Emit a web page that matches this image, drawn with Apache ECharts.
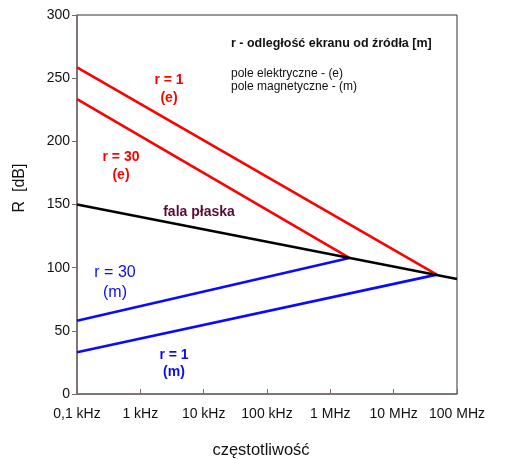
<!DOCTYPE html>
<html>
<head>
<meta charset="utf-8">
<script src="https://cdn.jsdelivr.net/npm/echarts@6/dist/echarts.min.js"></script>
<style>html,body{margin:0;padding:0;background:#fff;overflow:hidden;}#c{width:510px;height:459px;}</style>
</head>
<body>
<div id="c"></div>
<script>
// Data
var tickFreqs = [100, 1e3, 1e4, 1e5, 1e6, 1e7, 1e8];
var tickLabels = ['0,1 kHz', '1 kHz', '10 kHz', '100 kHz', '1 MHz', '10 MHz', '100 MHz'];
var planeWaveFreq = [100, 1e8];
var planeWaveR = [150, 91];
var e1Freq = [100, 4.8e7];
var e1R = [258.5, 94.5];
var e30Freq = [100, 2e6];
var e30R = [233.5, 107.7];
var m30Freq = [100, 2e6];
var m30R = [58, 107.7];
var m1Freq = [100, 4.8e7];
var m1R = [33, 94.5];

function pairs(xs, ys) { return xs.map(function (x, i) { return [x, ys[i]]; }); }
function labelFor(v) {
  for (var i = 0; i < tickFreqs.length; i++) {
    if (Math.abs(Math.log10(v) - Math.log10(tickFreqs[i])) < 1e-6) return tickLabels[i];
  }
  return '';
}

var font = 'Liberation Sans, Arial, sans-serif';
var axisCol = '#7a6868';

var dom = document.getElementById('c');
var chart = echarts.init(dom, null, { renderer: 'canvas', width: 510, height: 459 });
function lineSeries(name, xs, ys, color) {
  return {
    name: name, type: 'line', data: pairs(xs, ys), symbol: 'none', silent: true,
    lineStyle: { color: color, width: 2.6 }, z: 3
  };
}
chart.setOption({
  animation: false,
  backgroundColor: '#fff',
  grid: { left: 77, right: 53, top: 15, bottom: 65, show: true, borderColor: '#333', borderWidth: 1 },
  xAxis: {
    type: 'log', logBase: 10, min: 100, max: 1e8,
    axisLine: { show: true, lineStyle: { color: axisCol, width: 1.5 } },
    axisTick: { show: true, inside: true, length: 5, lineStyle: { color: axisCol, width: 1 } },
    axisLabel: { formatter: labelFor, fontFamily: font, fontSize: 14, color: '#111', margin: 13, showMinLabel: true, showMaxLabel: true },
    splitLine: { show: false },
    minorTick: { show: false }
  },
  yAxis: {
    type: 'value', min: 0, max: 300, interval: 50,
    axisLine: { show: true, lineStyle: { color: axisCol, width: 1.5 } },
    axisTick: { show: true, inside: false, length: 5, lineStyle: { color: axisCol, width: 1 } },
    axisLabel: { fontFamily: font, fontSize: 14, color: '#111', margin: 7 },
    splitLine: { show: false }
  },
  series: [
    lineSeries('r1e', e1Freq, e1R, '#ff0000'),
    lineSeries('r30e', e30Freq, e30R, '#ff0000'),
    lineSeries('r30m', m30Freq, m30R, '#0a0aff'),
    lineSeries('r1m', m1Freq, m1R, '#0a0aff'),
    lineSeries('plane', planeWaveFreq, planeWaveR, '#000000')
  ],
  graphic: [
    { type: 'text', x: 20, y: 188, rotation: Math.PI / 2, style: { text: 'R  [dB]', font: '16px ' + font, fill: '#111', align: 'center', verticalAlign: 'middle' } },
    { type: 'text', x: 261, y: 450, style: { text: 'częstotliwość', font: '16.5px ' + font, fill: '#111', align: 'center', verticalAlign: 'middle' } },
    { type: 'text', x: 231, y: 44, style: { text: 'r - odległość ekranu od źródła [m]', font: 'bold 12.5px ' + font, fill: '#111', verticalAlign: 'middle' } },
    { type: 'text', x: 231, y: 73.5, style: { text: 'pole elektryczne - (e)', font: '12px ' + font, fill: '#111', verticalAlign: 'middle' } },
    { type: 'text', x: 231, y: 87, style: { text: 'pole magnetyczne - (m)', font: '12px ' + font, fill: '#111', verticalAlign: 'middle' } },
    { type: 'text', x: 169, y: 89, style: { text: 'r = 1\n(e)', font: 'bold 14px ' + font, fill: '#ff0000', align: 'center', verticalAlign: 'middle', lineHeight: 18 } },
    { type: 'text', x: 121, y: 166.5, style: { text: 'r = 30\n(e)', font: 'bold 14px ' + font, fill: '#ff0000', align: 'center', verticalAlign: 'middle', lineHeight: 18 } },
    { type: 'text', x: 199, y: 212, style: { text: 'fala płaska', font: 'bold 14px ' + font, fill: '#5a0a3a', align: 'center', verticalAlign: 'middle' } },
    { type: 'text', x: 115, y: 283, style: { text: 'r = 30\n(m)', font: '16px ' + font, fill: '#0a0aff', align: 'center', verticalAlign: 'middle', lineHeight: 20 } },
    { type: 'text', x: 174, y: 363.5, style: { text: 'r = 1\n(m)', font: 'bold 14px ' + font, fill: '#0a0aff', align: 'center', verticalAlign: 'middle', lineHeight: 17 } }
  ]
});
</script>
</body>
</html>
